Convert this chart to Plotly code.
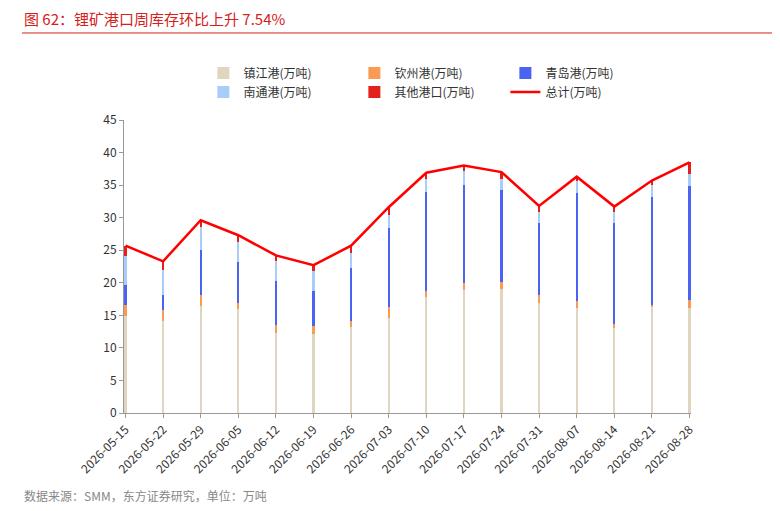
import plotly.graph_objects as go

dates = ["2026-05-15", "2026-05-22", "2026-05-29", "2026-06-05", "2026-06-12", "2026-06-19",
         "2026-06-26", "2026-07-03", "2026-07-10", "2026-07-17", "2026-07-24", "2026-07-31",
         "2026-08-07", "2026-08-14", "2026-08-21", "2026-08-28"]

top_zj = [14.9, 14.1, 16.4, 15.9, 12.3, 12.1, 13.2, 14.6, 17.8, 18.9, 19.1, 16.9, 16.2, 13.1, 16.4, 16.2]
top_qz = [16.6, 15.8, 18.1, 16.9, 13.5, 13.3, 14.2, 16.3, 18.8, 19.9, 20.1, 18.1, 17.2, 13.6, 16.6, 17.3]
top_qd = [19.6, 18.2, 25.1, 23.2, 20.3, 18.8, 22.3, 28.4, 33.9, 35.0, 34.3, 29.2, 33.8, 29.2, 33.1, 34.9]
top_nt = [24.1, 21.9, 28.5, 26.3, 23.3, 21.8, 24.6, 30.4, 36.0, 37.1, 36.0, 30.9, 35.7, 30.8, 35.0, 36.7]
total = [25.7, 23.3, 29.6, 27.3, 24.2, 22.7, 25.7, 31.6, 36.9, 38.0, 37.0, 31.8, 36.3, 31.7, 35.7, 38.5]

zhenjiang = top_zj
qinzhou = [b - a for a, b in zip(top_zj, top_qz)]
qingdao = [b - a for a, b in zip(top_qz, top_qd)]
nantong = [b - a for a, b in zip(top_qd, top_nt)]
others = [b - a for a, b in zip(top_nt, total)]

fig = go.Figure()
for name, vals, color in [
    ("镇江港(万吨)", zhenjiang, "#e0d6bf"),
    ("钦州港(万吨)", qinzhou, "#fa9b55"),
    ("青岛港(万吨)", qingdao, "#4a63f0"),
    ("南通港(万吨)", nantong, "#a8cdfa"),
    ("其他港口(万吨)", others, "#e3201b"),
]:
    fig.add_trace(go.Bar(x=dates, y=vals, name=name, marker_color=color, marker_line_width=0))

fig.add_trace(go.Scatter(x=dates, y=total, name="总计(万吨)", mode="lines",
                         line=dict(color="#ff0000", width=2.5)))

fig.update_layout(
    barmode="stack", bargap=0.94,
    width=780, height=511, plot_bgcolor="white", paper_bgcolor="white",
    font=dict(family="Noto Sans CJK SC", size=12, color="#333"),
    margin=dict(l=116, r=97, t=112, b=106, autoexpand=False),
    legend=dict(orientation="h", x=0.14, xanchor="left", y=1.21, yanchor="top",
                font=dict(size=12), traceorder="normal", entrywidth=106, tracegroupgap=4),
    showlegend=True,
)
fig.update_xaxes(type="category", range=[-0.04, 15.04], tickangle=-45, showline=True,
                 linecolor="#999", ticks="outside", tickcolor="#999", ticklen=4,
                 tickfont=dict(size=12), automargin=False)
fig.update_yaxes(range=[0, 45], dtick=5, showline=True, linecolor="#999", ticks="outside",
                 tickcolor="#999", ticklen=4, showgrid=False, tickfont=dict(size=12))

fig.add_annotation(text="图 62：锂矿港口周库存环比上升 7.54%", xref="paper", yref="paper",
                   x=-0.18, y=1.345, xanchor="left", yanchor="middle", showarrow=False,
                   font=dict(size=15, color="#d6201c"))
fig.add_shape(type="line", xref="paper", yref="paper", x0=-0.18, x1=1.18, y0=1.297, y1=1.297,
              line=dict(color="#d6201c", width=1))
fig.add_annotation(text="数据来源：SMM，东方证券研究，单位：万吨", xref="paper", yref="paper",
                   x=-0.18, y=-0.28, xanchor="left", yanchor="middle", showarrow=False,
                   font=dict(size=12, color="#888"))

fig.write_html("out.html")
